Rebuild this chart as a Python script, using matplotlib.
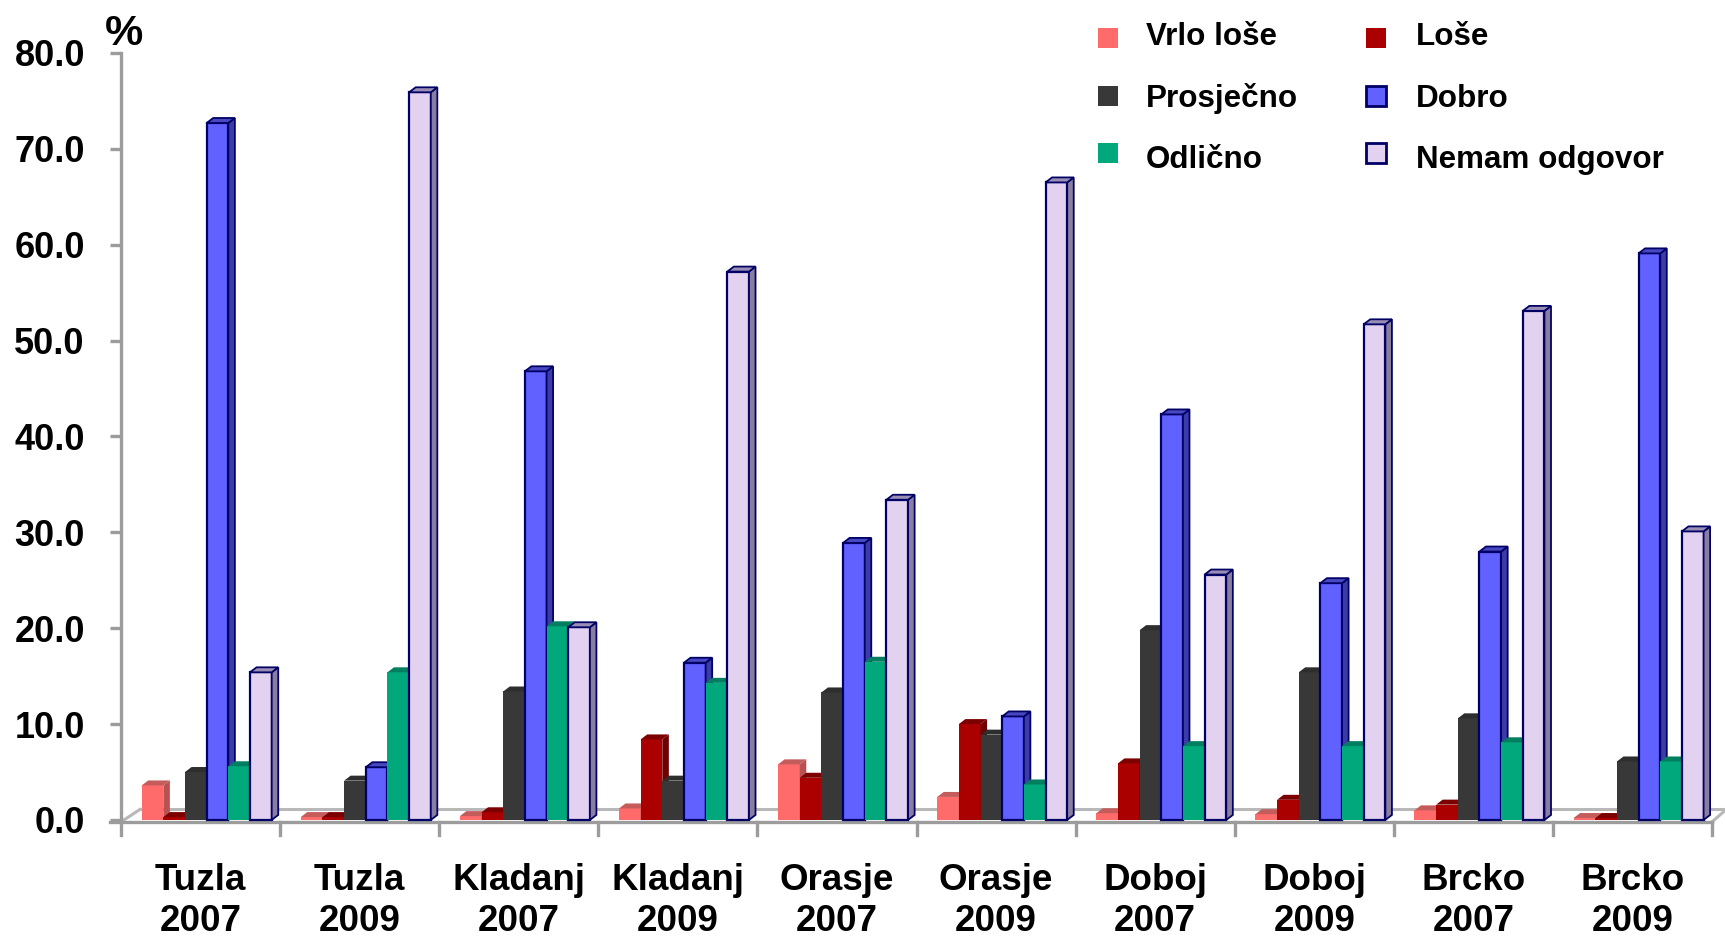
import numpy as np
import matplotlib.pyplot as plt
from matplotlib.patches import Polygon, Rectangle

plt.rcParams['font.family'] = ['Liberation Sans', 'DejaVu Sans']
plt.rcParams['font.weight'] = 'bold'

# Podaci po općinama i godinama (%)
gradovi = ["Tuzla", "Tuzla", "Kladanj", "Kladanj", "Orasje", "Orasje",
           "Doboj", "Doboj", "Brcko", "Brcko"]
godine = ["2007", "2009"] * 5

serije = ["Vrlo loše", "Loše", "Prosječno", "Dobro", "Odlično", "Nemam odgovor"]

vrlo_lose = [3.6, 0.3, 0.4, 1.2, 5.8, 2.4, 0.7, 0.6, 1.0, 0.2]
lose = [0.3, 0.3, 0.8, 8.4, 4.4, 10.0, 5.9, 2.1, 1.6, 0.2]
prosjecno = [5.0, 4.1, 13.4, 4.1, 13.3, 8.9, 19.8, 15.4, 10.6, 6.1]
dobro = [72.7, 5.5, 46.8, 16.4, 28.9, 10.8, 42.3, 24.7, 28.0, 59.1]
odlicno = [5.6, 15.4, 20.2, 14.3, 16.5, 3.7, 7.7, 7.7, 8.1, 6.1]
nemam_odgovor = [15.4, 75.9, 20.1, 57.2, 33.4, 66.5, 25.6, 51.7, 53.1, 30.1]

vrijednosti = [vrlo_lose, lose, prosjecno, dobro, odlicno, nemam_odgovor]

# boje: prednja strana, bočna strana, gornja strana, rub
prednja = ["#FF6B6B", "#AA0000", "#383838", "#6161FF", "#00A87C", "#E2D2F0"]
bocna = ["#B85252", "#6E0000", "#262626", "#3C3CA8", "#007458", "#8A7E9E"]
gornja = ["#C45C5C", "#7C0000", "#2E2E2E", "#4848C0", "#007E60", "#9A8EB4"]
rub = [None, None, None, "#000066", None, "#000066"]

W, H = 1725, 936
fig = plt.figure(figsize=(W / 100, H / 100), dpi=100)
ax = fig.add_axes([121 / W, 0.1076, (1712 - 121) / W, 0.8358])
ax.set_xlim(0, 10)
ax.set_ylim(-1.6, 80)

sirina = 0.1362
pomak = 0.130
dx, dy = 0.041, 0.52   # dubina stupca
x0 = np.arange(len(gradovi))

for j, vals in enumerate(vrijednosti):
    xl = x0 + pomak + sirina * j
    ec = rub[j] if rub[j] else "none"
    lw = 1.6 if rub[j] else 0
    ax.bar(xl, vals, width=sirina, align="edge", color=prednja[j],
           edgecolor=ec, linewidth=lw, zorder=3 + j)
    for x, v in zip(xl, vals):
        bok = [(x + sirina, 0), (x + sirina, v), (x + sirina + dx, v + dy),
               (x + sirina + dx, dy)]
        vrh = [(x, v), (x + sirina, v), (x + sirina + dx, v + dy), (x + dx, v + dy)]
        ax.add_patch(Polygon(bok, closed=True, facecolor=bocna[j], edgecolor=ec,
                             linewidth=lw * 0.8, zorder=3 + j))
        ax.add_patch(Polygon(vrh, closed=True, facecolor=gornja[j], edgecolor=ec,
                             linewidth=lw * 0.8, zorder=3 + j))

# pod grafikona
siva = "#9C9C9C"
ax.plot([-0.07, 10], [-0.2, -0.2], color=siva, lw=2.4, clip_on=False, zorder=2)
ax.plot([0.12, 10.09], [1.1, 1.1], color="#B8B8B8", lw=2.2, clip_on=False, zorder=1)
ax.plot([0, 0.12], [-0.2, 1.1], color="#B8B8B8", lw=2.2, clip_on=False, zorder=1)
ax.plot([10, 10.09], [-0.2, 1.1], color="#B8B8B8", lw=2.2, clip_on=False, zorder=1)
for g in range(1, 11):
    ax.plot([g, g], [-0.2, -1.6], color=siva, lw=2.4, clip_on=False, zorder=2)

for s in ["top", "right", "bottom"]:
    ax.spines[s].set_visible(False)
ax.spines["left"].set_color(siva)
ax.spines["left"].set_linewidth(2.4)

ax.set_yticks(np.arange(0, 81, 10))
ax.set_yticklabels([f"{v:.1f}" for v in np.arange(0, 81, 10)],
                   fontsize=26, fontweight="bold")
ax.tick_params(axis="y", color=siva, length=8, width=2.4, pad=18)

ax.set_xticks(x0 + 0.5)
ax.set_xticklabels([f"{g}\n{y}" for g, y in zip(gradovi, godine)],
                   fontsize=26.5, fontweight="bold", linespacing=1.22)
ax.tick_params(axis="x", length=0, pad=20)

fig.text(124 / W, 1 - 34 / H, "%", fontsize=31, fontweight="bold",
         ha="center", va="center")

# legenda
kol_x = [(1108, 1146), (1376, 1416)]
red_y = [(38, 45), (96, 107), (153, 168)]
for j, naziv in enumerate(serije):
    kol, red = j % 2, j // 2
    mx, tx = kol_x[kol]
    my, ty = red_y[red]
    ec = rub[j] if rub[j] else "none"
    lw = 2 if rub[j] else 0
    fig.add_artist(Rectangle(((mx - 10) / W, 1 - (my + 10) / H), 20 / W, 20 / H,
                             transform=fig.transFigure, facecolor=prednja[j],
                             edgecolor=ec, linewidth=lw))
    fig.text(tx / W, 1 - ty / H, naziv, fontsize=22.6, fontweight="bold",
             ha="left", va="baseline")

fig.savefig("out.png", dpi=100)
